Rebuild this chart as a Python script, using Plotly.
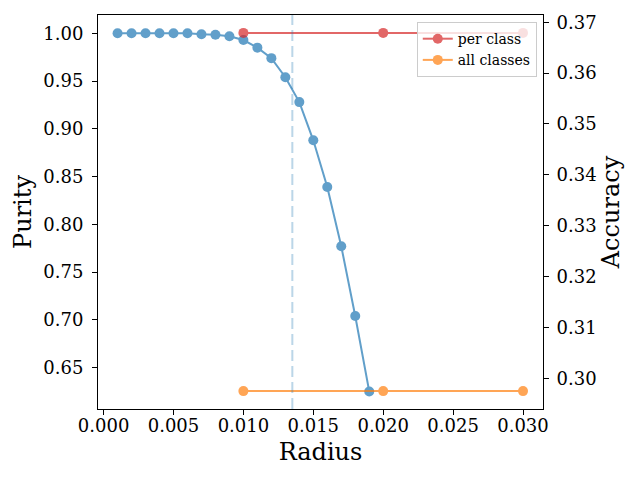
import plotly.graph_objects as go

# purity vs radius (left axis)
radius = [0.001, 0.002, 0.003, 0.004, 0.005, 0.006, 0.007, 0.008, 0.009, 0.010,
          0.011, 0.012, 0.013, 0.014, 0.015, 0.016, 0.017, 0.018, 0.019]
purity = [1.000, 1.000, 1.000, 1.000, 1.000, 1.000, 0.999, 0.9986, 0.997, 0.993,
          0.985, 0.974, 0.954, 0.928, 0.888, 0.839, 0.777, 0.704, 0.625]

# accuracy (right axis)
acc_radius = [0.010, 0.020, 0.030]
acc_per_class = [0.3679, 0.3679, 0.3679]
acc_all_classes = [0.2975, 0.2975, 0.2975]

cutoff = 0.0135

FONT = "DejaVu Serif"

fig = go.Figure()

fig.add_trace(go.Scatter(
    x=radius, y=purity, mode="lines+markers", opacity=0.7,
    line=dict(color="#1f77b4", width=2), marker=dict(color="#1f77b4", size=10),
    showlegend=False, yaxis="y"
))
fig.add_trace(go.Scatter(
    x=acc_radius, y=acc_per_class, mode="lines+markers", opacity=0.7, name="per class",
    line=dict(color="#d62728", width=2), marker=dict(color="#d62728", size=10),
    yaxis="y2"
))
fig.add_trace(go.Scatter(
    x=acc_radius, y=acc_all_classes, mode="lines+markers", opacity=0.7, name="all classes",
    line=dict(color="#ff7f0e", width=2), marker=dict(color="#ff7f0e", size=10),
    yaxis="y2"
))

fig.add_vline(x=cutoff, line=dict(color="rgba(31,119,180,0.3)", width=2, dash="11px,5px"))

axis_common = dict(
    showgrid=False, zeroline=False, showline=True, linecolor="black", linewidth=1,
    ticks="outside", ticklen=5, tickwidth=1, tickcolor="black", automargin=False,
    tickfont=dict(family=FONT, size=18, color="black"),
)

# the page body has an 8px margin, so margins are shifted to compensate
fig.update_layout(
    width=640, height=480,
    paper_bgcolor="white", plot_bgcolor="white",
    margin=dict(l=90, r=105, t=7, b=79),
    font=dict(family=FONT, color="black"),
    xaxis=dict(
        **axis_common, mirror=True, range=[-0.0004, 0.03143], ticklabelstandoff=-5,
        tickvals=[0, 0.005, 0.01, 0.015, 0.02, 0.025, 0.03], tickformat=".3f",
        title=dict(text="Radius", font=dict(family=FONT, size=24), standoff=8),
    ),
    yaxis=dict(
        **axis_common, range=[0.6066, 1.0192], ticklabelstandoff=5,
        tickvals=[0.65, 0.70, 0.75, 0.80, 0.85, 0.90, 0.95, 1.00], tickformat=".2f",
        title=dict(text="Purity", font=dict(family=FONT, size=24), standoff=4),
    ),
    yaxis2=dict(
        **axis_common, overlaying="y", side="right", range=[0.29398, 0.37142],
        ticklabelstandoff=4,
        tickvals=[0.30, 0.31, 0.32, 0.33, 0.34, 0.35, 0.36, 0.37], tickformat=".2f",
        title=dict(text="Accuracy", font=dict(family=FONT, size=24), standoff=6),
    ),
    legend=dict(
        x=0.986, y=0.982, xanchor="right", yanchor="top",
        bgcolor="rgba(255,255,255,0.8)", bordercolor="#cccccc", borderwidth=1,
        font=dict(family=FONT, size=14, color="black"),
        itemwidth=30, tracegroupgap=0,
    ),
)

fig.write_html("out.html")
